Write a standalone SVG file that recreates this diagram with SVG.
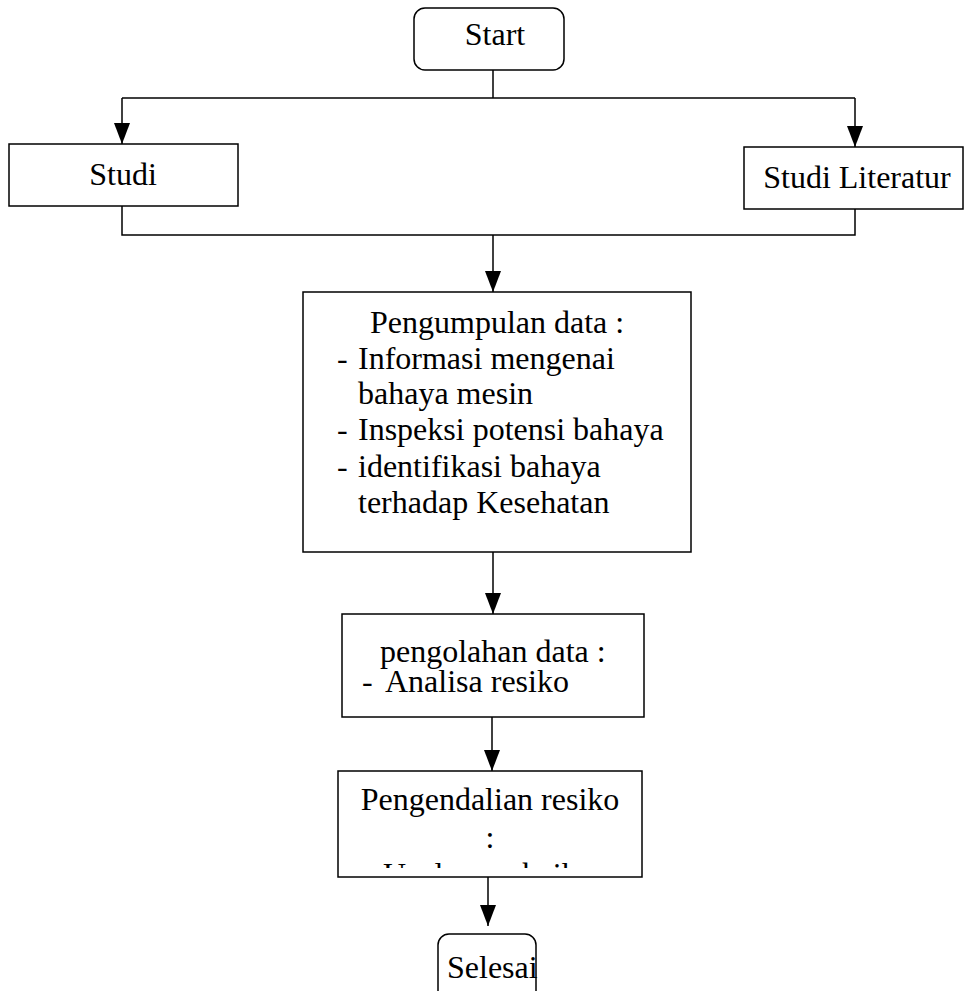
<svg xmlns="http://www.w3.org/2000/svg" width="965" height="991" viewBox="0 0 965 991">
<style>
.box{fill:#fff;stroke:#000;stroke-width:1.5}
.ln{fill:none;stroke:#000;stroke-width:1.5}
.t{font-family:"Liberation Serif","Times New Roman",serif;font-size:32px;fill:#000}
.m{text-anchor:middle}
</style>
<defs>
<marker id="ah" markerUnits="userSpaceOnUse" markerWidth="22" markerHeight="18" viewBox="0 0 22 18" refX="21" refY="9" orient="auto">
<path d="M0,1 L21,9 L0,17 Z" fill="#000"/>
</marker>
<clipPath id="clipP"><rect x="338" y="771" width="304" height="97"/></clipPath>
</defs>
<rect width="965" height="991" fill="#fff"/>
<g id="connectors">
<path class="ln" d="M493,70 V98"/>
<path class="ln" d="M122,98 H855"/>
<path class="ln" d="M122,98 V144" marker-end="url(#ah)"/>
<path class="ln" d="M855,98 V147" marker-end="url(#ah)"/>
<path class="ln" d="M122,206 V235 H855 V209"/>
<path class="ln" d="M493,235 V292" marker-end="url(#ah)"/>
<path class="ln" d="M493,552 V614" marker-end="url(#ah)"/>
<path class="ln" d="M492,717 V771" marker-end="url(#ah)"/>
<path class="ln" d="M488,877 V926" marker-end="url(#ah)"/>
</g>
<g id="start">
<rect class="box" x="414" y="8" width="150" height="62" rx="11"/>
<text class="t m" x="495" y="45">Start</text>
</g>
<g id="studi">
<rect class="box" x="9" y="144" width="229" height="62"/>
<text class="t m" x="123" y="185">Studi</text>
</g>
<g id="studi-literatur">
<rect class="box" x="744" y="147" width="219" height="62"/>
<text class="t m" x="857" y="188">Studi Literatur</text>
</g>
<g id="pengumpulan">
<rect class="box" x="303" y="292" width="388" height="260"/>
<text class="t" x="370" y="333">Pengumpulan data :</text>
<text class="t" x="337" y="369">-</text>
<text class="t" x="358" y="369">Informasi mengenai</text>
<text class="t" x="358" y="404">bahaya mesin</text>
<text class="t" x="337" y="440">-</text>
<text class="t" x="358" y="440">Inspeksi potensi bahaya</text>
<text class="t" x="337" y="477">-</text>
<text class="t" x="358" y="477">identifikasi bahaya</text>
<text class="t" x="358" y="513">terhadap Kesehatan</text>
</g>
<g id="pengolahan">
<rect class="box" x="342" y="614" width="302" height="103"/>
<text class="t" x="380" y="662">pengolahan data :</text>
<text class="t" x="362" y="692">-</text>
<text class="t" x="385" y="692">Analisa resiko</text>
</g>
<g id="pengendalian">
<rect class="box" x="338" y="771" width="304" height="106"/>
<text class="t m" x="490" y="810">Pengendalian resiko</text>
<text class="t m" x="490" y="848">:</text>
<text class="t" x="383" y="885" clip-path="url(#clipP)">Usulan perbaikan</text>
</g>
<g id="selesai">
<rect class="box" x="438" y="934" width="98" height="70" rx="11"/>
<text class="t" x="447" y="978">Selesai</text>
</g>
</svg>
